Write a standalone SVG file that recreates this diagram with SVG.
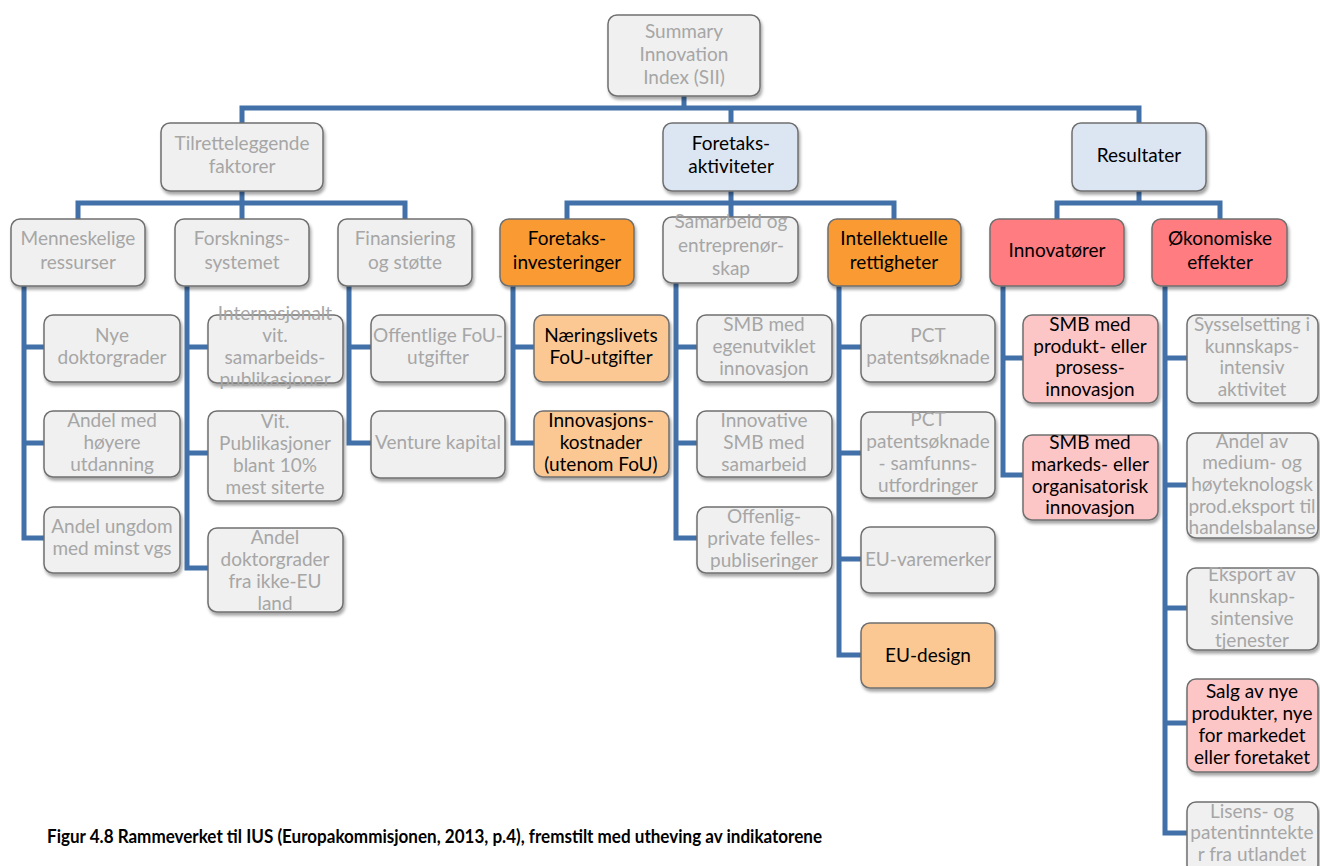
<svg xmlns="http://www.w3.org/2000/svg" width="1320" height="866" viewBox="0 0 1320 866">
<defs>
<filter id="sh" x="-10%" y="-10%" width="130%" height="140%">
<feDropShadow dx="1.5" dy="3" stdDeviation="1.8" flood-color="#000" flood-opacity="0.35"/>
</filter>
<style>
.b{stroke:#6f6f6f;stroke-width:1.5;filter:url(#sh)}
.g{fill:#f0f0f0}
.bl{fill:#dce6f2}
.or{fill:#f99a33}
.lo{fill:#fbc893}
.rd{fill:#ff7c80}
.pk{fill:#fdc6c6}
text{font-family:Lato,"Liberation Sans",sans-serif;font-size:19px;text-anchor:middle}
.tg{fill:#a6a6a6}
.tk{fill:#000}
.c{fill:none;stroke:#4270a8;stroke-width:5;stroke-linejoin:miter}
.cap{font-family:Lato,"Liberation Sans",sans-serif;font-weight:bold;font-size:19.5px;text-anchor:start;fill:#000}
</style>
</defs>
<rect width="1320" height="866" fill="#fff"/>

<g id="connectors">
<path class="c" d="M684,96V108M242,123V108H1139V123M731,108V123"/>
<path class="c" d="M242,191V203M78,219V203H405V219M242,203V219"/>
<path class="c" d="M731,191V203M567,219V203H894V219M731,203V217"/>
<path class="c" d="M1139,191V203M1057,219V203H1220V219"/>
<path class="c" d="M24,286V538H44M24,347H44M24,443H44"/>
<path class="c" d="M187,286V568H208M187,347H208M187,453H208"/>
<path class="c" d="M349,286V443H371M349,347H371"/>
<path class="c" d="M513,286V443H534M513,347H534"/>
<path class="c" d="M676,283V538H697M676,347H697M676,443H697"/>
<path class="c" d="M839,286V655H861M839,347H861M839,453H861M839,559H861"/>
<path class="c" d="M1003,286V475H1023M1003,358H1023"/>
<path class="c" d="M1165,286V833H1187M1165,358H1187M1165,485H1187M1165,608H1187M1165,723H1187"/>
</g>

<g id="root"><rect class="b g" x="608" y="15" width="152" height="81" rx="9"/>
<text class="tg"><tspan x="684" y="38">Summary</tspan><tspan x="684" y="61">Innovation</tspan><tspan x="684" y="84">Index (SII)</tspan></text></g>

<g id="tilrette"><rect class="b g" x="161" y="123" width="162" height="68" rx="9"/>
<text class="tg"><tspan x="242" y="150">Tilretteleggende</tspan><tspan x="242" y="173">faktorer</tspan></text></g>
<g id="foretaksakt"><rect class="b bl" x="663" y="123" width="135" height="68" rx="9"/>
<text class="tk"><tspan x="731" y="150">Foretaks-</tspan><tspan x="731" y="173">aktiviteter</tspan></text></g>
<g id="resultater"><rect class="b bl" x="1072" y="123" width="134" height="68" rx="9"/>
<text class="tk"><tspan x="1139" y="162">Resultater</tspan></text></g>

<g id="menneskelige"><rect class="b g" x="11" y="219" width="134" height="67" rx="9"/>
<text class="tg"><tspan x="78" y="245">Menneskelige</tspan><tspan x="78" y="269">ressurser</tspan></text></g>
<g id="forsknings"><rect class="b g" x="175" y="219" width="134" height="67" rx="9"/>
<text class="tg"><tspan x="242" y="245">Forsknings-</tspan><tspan x="242" y="269">systemet</tspan></text></g>
<g id="finansiering"><rect class="b g" x="338" y="219" width="134" height="67" rx="9"/>
<text class="tg"><tspan x="405" y="245">Finansiering</tspan><tspan x="405" y="269">og støtte</tspan></text></g>
<g id="foretaksinv"><rect class="b or" x="500" y="219" width="134" height="67" rx="9"/>
<text class="tk"><tspan x="567" y="245">Foretaks-</tspan><tspan x="567" y="269">investeringer</tspan></text></g>
<g id="samarbeid"><rect class="b g" x="663" y="217" width="135" height="66" rx="9"/>
<text class="tg"><tspan x="731" y="228">Samarbeid og</tspan><tspan x="731" y="252">entreprenør-</tspan><tspan x="731" y="275">skap</tspan></text></g>
<g id="intellektuelle"><rect class="b or" x="828" y="219" width="133" height="67" rx="9"/>
<text class="tk"><tspan x="894" y="245">Intellektuelle</tspan><tspan x="894" y="269">rettigheter</tspan></text></g>
<g id="innovatorer"><rect class="b rd" x="990" y="219" width="134" height="67" rx="9"/>
<text class="tk"><tspan x="1057" y="257">Innovatører</tspan></text></g>
<g id="okonomiske"><rect class="b rd" x="1152" y="219" width="135" height="67" rx="9"/>
<text class="tk"><tspan x="1220" y="245">Økonomiske</tspan><tspan x="1220" y="269">effekter</tspan></text></g>

<g id="nye-dr"><rect class="b g" x="44" y="315" width="136" height="67" rx="9"/>
<text class="tg"><tspan x="112" y="342">Nye</tspan><tspan x="112" y="364">doktorgrader</tspan></text></g>
<g id="andel-hoyere"><rect class="b g" x="44" y="411" width="136" height="66" rx="9"/>
<text class="tg"><tspan x="112" y="427">Andel med</tspan><tspan x="112" y="449">høyere</tspan><tspan x="112" y="471">utdanning</tspan></text></g>
<g id="andel-ungdom"><rect class="b g" x="44" y="507" width="136" height="66" rx="9"/>
<text class="tg"><tspan x="112" y="533">Andel ungdom</tspan><tspan x="112" y="555">med minst vgs</tspan></text></g>

<g id="internasjonalt"><rect class="b g" x="208" y="315" width="135" height="68" rx="9"/>
<text class="tg"><tspan x="275" y="320">Internasjonalt</tspan><tspan x="275" y="342">vit.</tspan><tspan x="275" y="364">samarbeids-</tspan><tspan x="275" y="386">publikasjoner</tspan></text></g>
<g id="vit-publ"><rect class="b g" x="208" y="411" width="135" height="90" rx="9"/>
<text class="tg"><tspan x="275" y="428">Vit.</tspan><tspan x="275" y="450">Publikasjoner</tspan><tspan x="275" y="472">blant 10%</tspan><tspan x="275" y="494">mest siterte</tspan></text></g>
<g id="andel-dr"><rect class="b g" x="208" y="528" width="135" height="84" rx="9"/>
<text class="tg"><tspan x="275" y="544">Andel</tspan><tspan x="275" y="566">doktorgrader</tspan><tspan x="275" y="588">fra ikke-EU</tspan><tspan x="275" y="610">land</tspan></text></g>

<g id="offentlige"><rect class="b g" x="371" y="315" width="134" height="67" rx="9"/>
<text class="tg"><tspan x="438" y="342">Offentlige FoU-</tspan><tspan x="438" y="364">utgifter</tspan></text></g>
<g id="venture"><rect class="b g" x="371" y="411" width="134" height="67" rx="9"/>
<text class="tg"><tspan x="438" y="449">Venture kapital</tspan></text></g>

<g id="naeringslivets"><rect class="b lo" x="534" y="315" width="135" height="67" rx="9"/>
<text class="tk"><tspan x="601" y="342">Næringslivets</tspan><tspan x="601" y="364">FoU-utgifter</tspan></text></g>
<g id="innovasjonskost"><rect class="b lo" x="534" y="411" width="135" height="66" rx="9"/>
<text class="tk"><tspan x="601" y="427">Innovasjons-</tspan><tspan x="601" y="449">kostnader</tspan><tspan x="601" y="471">(utenom FoU)</tspan></text></g>

<g id="smb-egen"><rect class="b g" x="697" y="315" width="135" height="67" rx="9"/>
<text class="tg"><tspan x="764" y="331">SMB med</tspan><tspan x="764" y="353">egenutviklet</tspan><tspan x="764" y="375">innovasjon</tspan></text></g>
<g id="innovative-smb"><rect class="b g" x="697" y="411" width="135" height="66" rx="9"/>
<text class="tg"><tspan x="764" y="427">Innovative</tspan><tspan x="764" y="449">SMB med</tspan><tspan x="764" y="471">samarbeid</tspan></text></g>
<g id="offenlig-private"><rect class="b g" x="697" y="507" width="135" height="66" rx="9"/>
<text class="tg"><tspan x="764" y="523">Offenlig-</tspan><tspan x="764" y="545">private felles-</tspan><tspan x="764" y="567">publiseringer</tspan></text></g>

<g id="pct1"><rect class="b g" x="861" y="315" width="134" height="67" rx="9"/>
<text class="tg"><tspan x="928" y="342">PCT</tspan><tspan x="928" y="364">patentsøknade</tspan></text></g>
<g id="pct2"><rect class="b g" x="861" y="412" width="134" height="86" rx="9"/>
<text class="tg"><tspan x="928" y="426">PCT</tspan><tspan x="928" y="448">patentsøknade</tspan><tspan x="928" y="470">- samfunns-</tspan><tspan x="928" y="492">utfordringer</tspan></text></g>
<g id="eu-varemerker"><rect class="b g" x="861" y="527" width="134" height="66" rx="9"/>
<text class="tg"><tspan x="928" y="566">EU-varemerker</tspan></text></g>
<g id="eu-design"><rect class="b lo" x="861" y="623" width="134" height="65" rx="9"/>
<text class="tk"><tspan x="928" y="662">EU-design</tspan></text></g>

<g id="smb-produkt"><rect class="b pk" x="1023" y="315" width="135" height="88" rx="9"/>
<text class="tk"><tspan x="1090" y="331">SMB med</tspan><tspan x="1090" y="353">produkt- eller</tspan><tspan x="1090" y="374">prosess-</tspan><tspan x="1090" y="396">innovasjon</tspan></text></g>
<g id="smb-markeds"><rect class="b pk" x="1023" y="435" width="135" height="85" rx="9"/>
<text class="tk"><tspan x="1090" y="449">SMB med</tspan><tspan x="1090" y="471">markeds- eller</tspan><tspan x="1090" y="493">organisatorisk</tspan><tspan x="1090" y="514">innovasjon</tspan></text></g>

<g id="sysselsetting"><rect class="b g" x="1187" y="315" width="131" height="88" rx="9"/>
<text class="tg"><tspan x="1252" y="331">Sysselsetting i</tspan><tspan x="1252" y="353">kunnskaps-</tspan><tspan x="1252" y="374">intensiv</tspan><tspan x="1252" y="396">aktivitet</tspan></text></g>
<g id="andel-medium"><rect class="b g" x="1187" y="433" width="131" height="105" rx="9"/>
<text class="tg"><tspan x="1252" y="448">Andel av</tspan><tspan x="1252" y="469">medium- og</tspan><tspan x="1252" y="491">høyteknologsk</tspan><tspan x="1252" y="513">prod.eksport til</tspan><tspan x="1252" y="534">handelsbalanse</tspan></text></g>
<g id="eksport"><rect class="b g" x="1187" y="568" width="131" height="82" rx="9"/>
<text class="tg"><tspan x="1252" y="581">Eksport av</tspan><tspan x="1252" y="603">kunnskap-</tspan><tspan x="1252" y="625">sintensive</tspan><tspan x="1252" y="647">tjenester</tspan></text></g>
<g id="salg"><rect class="b pk" x="1187" y="679" width="131" height="93" rx="9"/>
<text class="tk"><tspan x="1252" y="698">Salg av nye</tspan><tspan x="1252" y="720">produkter, nye</tspan><tspan x="1252" y="742">for markedet</tspan><tspan x="1252" y="764">eller foretaket</tspan></text></g>
<g id="lisens"><rect class="b g" x="1187" y="802" width="131" height="72" rx="9"/>
<text class="tg"><tspan x="1252" y="818">Lisens- og</tspan><tspan x="1252" y="839">patentinntekte</tspan><tspan x="1252" y="861">r fra utlandet</tspan></text></g>

<text class="cap" x="47" y="843" textLength="775" lengthAdjust="spacingAndGlyphs">Figur 4.8 Rammeverket til IUS (Europakommisjonen, 2013, p.4), fremstilt med utheving av indikatorene</text>
</svg>
